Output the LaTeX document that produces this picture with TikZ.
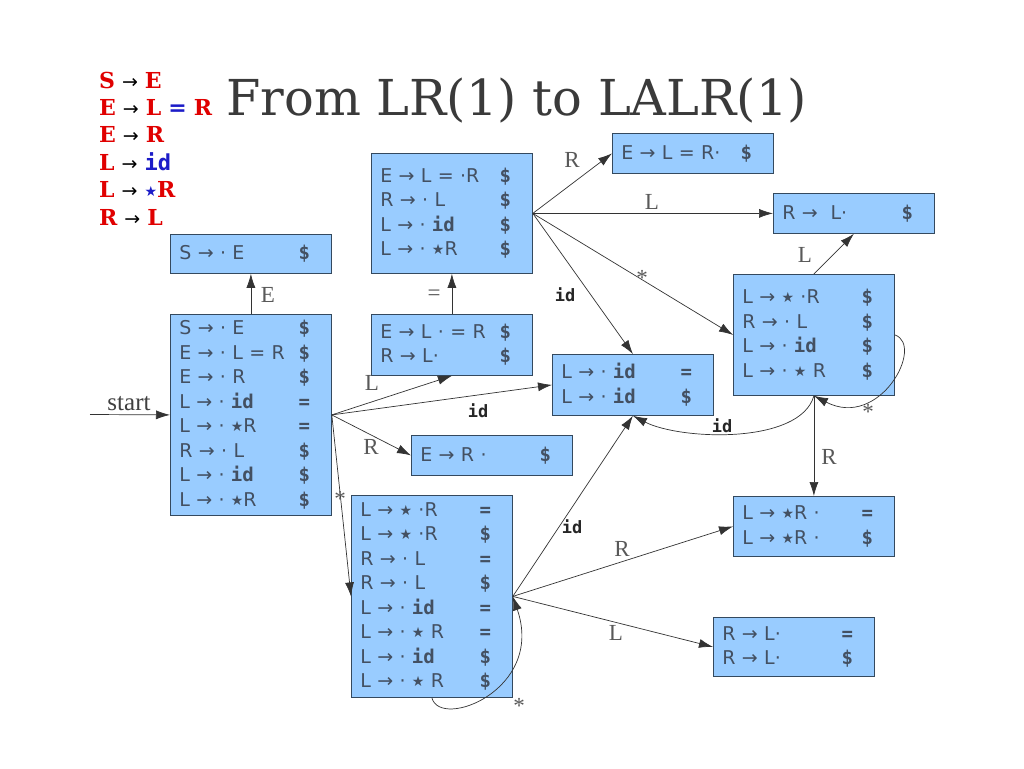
\documentclass[tikz,border=0pt]{standalone}
\usepackage{fontspec}
\setmainfont{DejaVu Sans}
\setmonofont{DejaVu Sans Mono}
\newfontfamily\titlefont{DejaVu Serif}
\newfontfamily\lblfont{Liberation Serif}
\newfontfamily\gramfont{DejaVu Serif}
\usetikzlibrary{arrows.meta}
\definecolor{boxfill}{HTML}{99CCFF}
\definecolor{boxline}{HTML}{34495E}
\definecolor{boxtext}{HTML}{435062}
\definecolor{gred}{HTML}{E00000}
\definecolor{gblue}{HTML}{1C1CC8}
\definecolor{titlec}{HTML}{3A3A3A}
\newcommand{\tk}[1]{{\ttfamily\bfseries #1}}
\newcommand{\st}{\raisebox{1pt}{\fontsize{14}{14}\selectfont ★}}
\newcommand{\itm}[2]{\makebox[116pt][l]{#1}\makebox[18pt]{#2}}
\newcommand{\gr}[1]{{\color{gred}\gramfont\bfseries #1}}
\newcommand{\gb}[1]{{\color{gblue}\ttfamily\bfseries #1}}
\newcommand{\garr}{{\color{black}\normalfont\fontsize{19}{19}\selectfont →}}
\begin{document}
\begin{tikzpicture}[x=1pt,y=-1pt,
  box/.style={draw=boxline, line width=0.8pt, fill=boxfill, anchor=north west,
    inner xsep=9pt, inner ysep=0pt, text width=143pt, align=left,
    text=boxtext, font=\fontsize{19}{24.5}\selectfont},
  edge/.style={draw=black!80, line width=0.7pt, -{Latex[length=14pt,width=9pt]}},
  lbl/.style={inner sep=0pt, text=black!65, font=\lblfont\fontsize{23}{23}\selectfont},
  idl/.style={inner sep=0pt, text=black!85, font=\ttfamily\bfseries\fontsize{17}{17}\selectfont},
  gram/.style={inner sep=0pt, anchor=base west, font=\fontsize{22}{22}\selectfont},
]
\useasboundingbox[fill=white] (0,0) rectangle (1024,768);

% grammar
\node[gram] (g1) at (99,88) {\gr{S} \garr{} \gr{E}};
\node[gram] (g2) at (99,115.4) {\gr{E} \garr{} \gr{L} {\color{gblue}\bfseries =} \gr{R}};
\node[gram] (g3) at (99,142.8) {\gr{E} \garr{} \gr{R}};
\node[gram] (g4) at (99,170.2) {\gr{L} \garr{} \gb{id}};
\node[gram] (g5) at (99,197.6) {\gr{L} \garr{} {\color{gblue}\st}\gr{R}};
\node[gram] (g6) at (99,225) {\gr{R} \garr{} \gr{L}};

% title
\node[inner sep=0pt, anchor=base west, text=titlec, font=\titlefont\fontsize{49.5}{50}\selectfont] (title) at (226,115) {From LR(1) to LALR(1)};

% boxes
\node[box, minimum height=39pt] (S0p) at (170,234) {\itm{S → · E}{\tk{\$}}};
\node[box, minimum height=201pt] (I0) at (170,314) {\itm{S → · E}{\tk{\$}}\\ \itm{E → · L = R}{\tk{\$}}\\ \itm{E → · R}{\tk{\$}}\\ \itm{L → · \tk{id}}{\tk{=}}\\ \itm{L → · \st R}{\tk{=}}\\ \itm{R → · L}{\tk{\$}}\\ \itm{L → · \tk{id}}{\tk{\$}}\\ \itm{L → · \st R}{\tk{\$}}};
\node[box, minimum height=120pt] (I6) at (371,153) {\itm{E → L = ·R}{\tk{\$}}\\ \itm{R → · L}{\tk{\$}}\\ \itm{L → · \tk{id}}{\tk{\$}}\\ \itm{L → · \st R}{\tk{\$}}};
\node[box, minimum height=40pt] (I9) at (612,133) {\itm{E → L = R·}{\tk{\$}}};
\node[box, minimum height=40pt] (I7b) at (773,193) {\itm{R → \ L·}{\tk{\$}}};
\node[box, minimum height=121pt] (I4p) at (733,274) {\itm{L → \st{} ·R}{\tk{\$}}\\ \itm{R → · L}{\tk{\$}}\\ \itm{L → · \tk{id}}{\tk{\$}}\\ \itm{L → · \st{} R}{\tk{\$}}};
\node[box, minimum height=61pt] (I5) at (552,354) {\itm{L → · \tk{id}}{\tk{=}}\\ \itm{L → · \tk{id}}{\tk{\$}}};
\node[box, minimum height=61pt] (I2) at (371,314) {\itm{E → L · = R}{\tk{\$}}\\ \itm{R → L·}{\tk{\$}}};
\node[box, minimum height=40pt] (I3) at (411,435) {\itm{E → R ·}{\tk{\$}}};
\node[box, minimum height=202pt] (I4) at (351,495) {\itm{L → \st{} ·R}{\tk{=}}\\ \itm{L → \st{} ·R}{\tk{\$}}\\ \itm{R → · L}{\tk{=}}\\ \itm{R → · L}{\tk{\$}}\\ \itm{L → · \tk{id}}{\tk{=}}\\ \itm{L → · \st{} R}{\tk{=}}\\ \itm{L → · \tk{id}}{\tk{\$}}\\ \itm{L → · \st{} R}{\tk{\$}}};
\node[box, minimum height=60pt] (I8) at (733,496) {\itm{L → \st R ·}{\tk{=}}\\ \itm{L → \st R ·}{\tk{\$}}};
\node[box, minimum height=59pt] (I7) at (713,617) {\itm{R → L·}{\tk{=}}\\ \itm{R → L·}{\tk{\$}}};

% start
\coordinate (st) at (90,414.5);
\draw[edge] (st) -- (I0.west);
\node[inner sep=0pt, anchor=base, text=black!75, font=\lblfont\fontsize{25}{25}\selectfont] (lstart) at (129,410) {start};

% edges from I0
\draw[edge] (I0.north) -- (S0p.south);
\draw[edge] (I0.east) -- (I2.south);
\draw[edge] (I0.east) -- (I5.west);
\draw[edge] (I0.east) -- (I3.west);
\draw[edge] (I0.east) -- (I4.west);
\draw[edge] (I2.north) -- (I6.south);
% from I6
\draw[edge] (I6.east) -- (I9.west);
\draw[edge] (I6.east) -- (I7b.west);
\draw[edge] (I6.east) -- (I4p.west);
\draw[edge] (I6.east) -- (I5.north);
% from I4p
\draw[edge] (I4p.north) -- (I7b.south);
\draw[edge] (I4p.south) -- (I8.north);
\draw[edge] (I4p.east) .. controls (925,345) and (880,430) .. (I4p.south);
\draw[edge] (I4p.south) .. controls (800,445) and (680,440) .. (I5.south);
% from I4
\draw[edge] (I4.east) -- (I5.south);
\draw[edge] (I4.east) -- (I8.west);
\draw[edge] (I4.east) -- (I7.west);
\draw[edge] (I4.south) .. controls (440,730) and (545,690) .. (I4.east);

% labels
\node[lbl] (lE) at (268,295) {E};
\node[lbl] (lEq) at (434,295) {=};
\node[lbl] (lR1) at (572,160) {R};
\node[lbl] (lL1) at (652,202) {L};
\node[lbl] (ls1) at (642,278) {*};
\node[idl] (lid1) at (565,295) {id};
\node[lbl] (lL2) at (805,255) {L};
\node[lbl] (ls2) at (868,412) {*};
\node[idl] (lid2) at (722,426) {id};
\node[lbl] (lR2) at (829,457) {R};
\node[lbl] (lL3) at (372,383) {L};
\node[idl] (lid3) at (478,411) {id};
\node[lbl] (lR3) at (371,447) {R};
\node[lbl] (ls3) at (340,499) {*};
\node[idl] (lid4) at (572,527) {id};
\node[lbl] (lR4) at (622,549) {R};
\node[lbl] (lL4) at (616,633) {L};
\node[lbl] (ls4) at (519,706) {*};
\end{tikzpicture}
\end{document}
